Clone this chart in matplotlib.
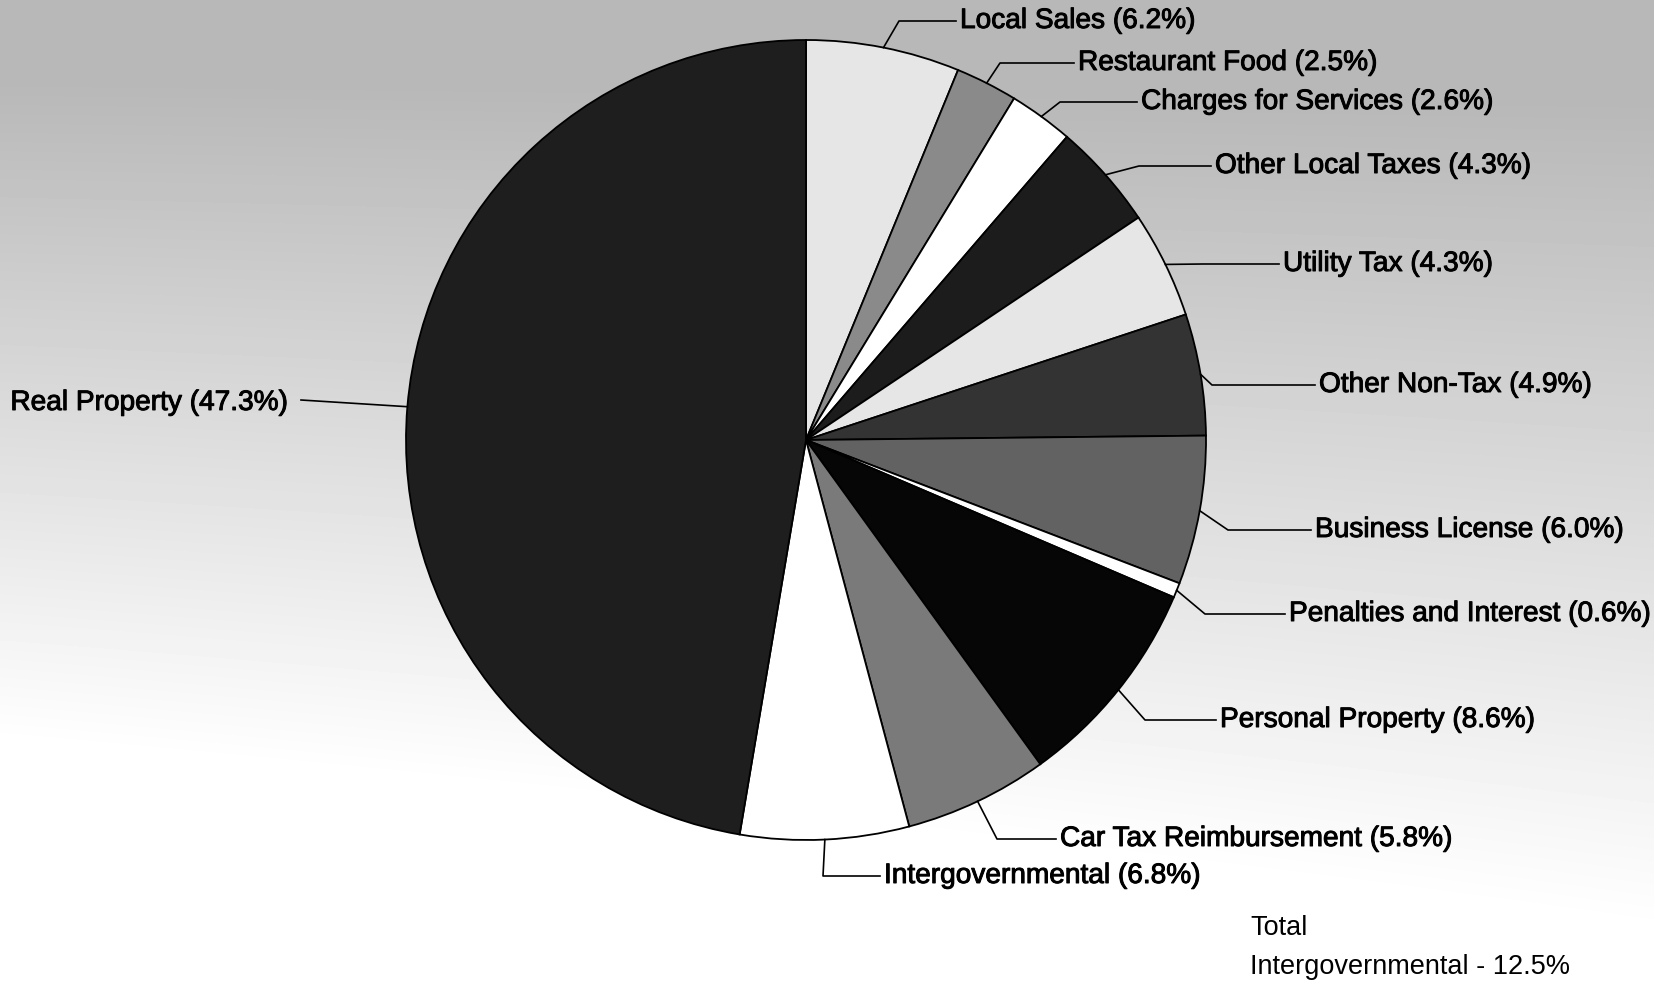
import numpy as np
import matplotlib
matplotlib.use("Agg")
import matplotlib.pyplot as plt
import matplotlib.patheffects as pe

# ---- data ----
categories = ["Local Sales", "Restaurant Food", "Charges for Services",
              "Other Local Taxes", "Utility Tax", "Other Non-Tax",
              "Business License", "Penalties and Interest", "Personal Property",
              "Car Tax Reimbursement", "Intergovernmental", "Real Property"]
shares = [6.2, 2.5, 2.6, 4.3, 4.3, 4.9, 6.0, 0.6, 8.6, 5.8, 6.8, 47.3]
note_lines = ["Total", "Intergovernmental - 12.5%"]

# ---- style / layout ----
fills = ["#e6e6e6", "#8a8a8a", "#ffffff", "#1c1c1c", "#e6e6e6", "#333333",
         "#626262", "#ffffff", "#060606", "#7a7a7a", "#ffffff", "#1e1e1e"]
W, H = 1654, 982
CX, CY, R = 806, H - 440, 400
# label (x_left, y_from_top), elbow x
label_pos = [(960, 21), (1078, 63), (1141, 102), (1215, 166), (1283, 264),
             (1319, 385), (1315, 530), (1289, 614), (1220, 720), (1060, 839),
             (884, 876), (287, 403)]
elbow_x = [899, 1000, 1060, 1139, 1203, 1212, 1228, 1205, 1145, 997, 823, None]

plt.rcParams['font.family'] = ['Liberation Sans', 'DejaVu Sans']
fig = plt.figure(figsize=(W / 100, H / 100), dpi=100)
ax = fig.add_axes([0, 0, 1, 1])

# background tone fading from top to bottom
yy, xx = np.mgrid[0:1:200j, 0:1:340j]
t = np.clip((yy - 0.10) / 0.85 + 0.30 * (1 - xx) * yy, 0, 1)
bg = 0.72 + 0.28 * t
ax.imshow(bg, cmap="gray", vmin=0, vmax=1, extent=(0, W, 0, H),
          origin="upper", zorder=0, aspect="auto", interpolation="bilinear")

wedges, _ = ax.pie(shares, colors=fills, startangle=90, counterclock=False,
                   center=(CX, CY), radius=R,
                   wedgeprops=dict(edgecolor="black", linewidth=1.3))
for w in wedges:
    w.set_zorder(2)

ax.set_xlim(0, W)
ax.set_ylim(0, H)
ax.set_aspect("equal")
ax.axis("off")

stroke = [pe.withStroke(linewidth=0.7, foreground="black")]
for i, (w, name, val) in enumerate(zip(wedges, categories, shares)):
    mid = np.deg2rad((w.theta1 + w.theta2) / 2)
    ex, ey = CX + R * np.cos(mid), CY + R * np.sin(mid)
    lx, ly = label_pos[i]
    ly = H - ly
    txt = f"{name} ({val:.1f}%)"
    if elbow_x[i] is None:
        ax.plot([lx + 14, ex], [ly + 3, ey], color="black", lw=1.2, zorder=3)
        ax.text(lx, ly, txt, ha="right", va="center", fontsize=20.2,
                zorder=4, path_effects=stroke)
    else:
        ax.plot([ex, elbow_x[i], lx - 4], [ey, ly, ly], color="black",
                lw=1.2, zorder=3)
        ax.text(lx, ly, txt, ha="left", va="center", fontsize=20.2,
                zorder=4, path_effects=stroke)

ax.text(1250, H - 928, note_lines[0], ha="left", va="center", fontsize=19.5, zorder=4)
ax.text(1250, H - 967, note_lines[1], ha="left", va="center", fontsize=19.5, zorder=4)

fig.savefig("out.png", dpi=100)
